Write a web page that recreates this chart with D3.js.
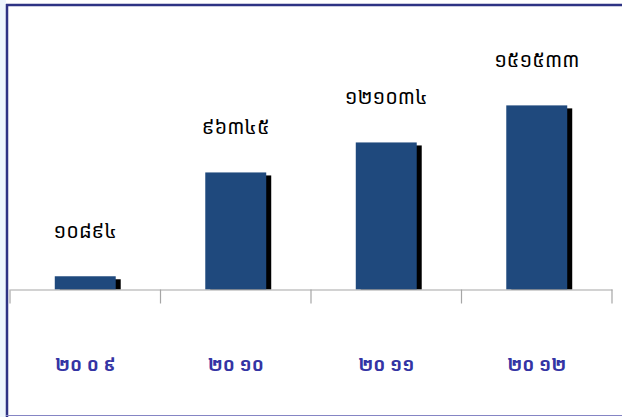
<!DOCTYPE html>
<html>
<head>
<meta charset="utf-8">
<script src="https://cdn.jsdelivr.net/npm/d3@7"></script>
<style>
  html, body { margin: 0; padding: 0; background: #ffffff; }
  svg { display: block; }
</style>
</head>
<body>
<svg id="chart" width="622" height="417"></svg>
<script>
// Yearly totals, with labels in Khmer numerals
const years = ["២០ ០ ៩", "២០ ១០", "២០ ១១", "២០ ១២"];
const values = [10894, 96345, 121034, 151533];
const valueLabels = ["១០៨៩៤", "៩៦៣៤៥", "១២១០៣៤", "១៥១៥៣៣"];

const svg = d3.select("#chart");
const W = 622, H = 417;

// outer frame
svg.append("rect").attr("x", 0).attr("y", 0).attr("width", 6).attr("height", H).attr("fill", "#eef6fd");
svg.append("line").attr("x1", 6).attr("x2", W).attr("y1", 5).attr("y2", 5)
  .attr("stroke", "#2e3384").attr("stroke-width", 2.5);
svg.append("line").attr("x1", 7).attr("x2", 7).attr("y1", 4).attr("y2", H)
  .attr("stroke", "#2e3384").attr("stroke-width", 2.5);
svg.append("line").attr("x1", 6).attr("x2", W).attr("y1", 415.5).attr("y2", 415.5)
  .attr("stroke", "#8585c4").attr("stroke-width", 1.2);

const x = d3.scaleBand().domain(years).range([10, 612]).paddingInner(0).paddingOuter(0);
const y = d3.scaleLinear().domain([0, 200000]).range([289.5, 289.5 - 243]);

const barW = x.bandwidth() * 0.405;

const g = svg.append("g");

// drop shadows
g.selectAll("rect.shadow").data(values).join("rect")
  .attr("class", "shadow")
  .attr("x", (d, i) => x(years[i]) + (x.bandwidth() - barW) / 2 + 5)
  .attr("y", d => y(d) + 3)
  .attr("width", barW)
  .attr("height", d => y(0) - y(d) - 3)
  .attr("fill", "#000000");

// bars
g.selectAll("rect.bar").data(values).join("rect")
  .attr("class", "bar")
  .attr("x", (d, i) => x(years[i]) + (x.bandwidth() - barW) / 2)
  .attr("y", d => y(d))
  .attr("width", barW)
  .attr("height", d => y(0) - y(d))
  .attr("fill", "#1f497d");

// category axis
const axis = d3.axisBottom(x).tickSize(0).tickFormat("");
const ax = svg.append("g").attr("transform", `translate(0,${y(0)})`).call(axis);
ax.select(".domain").attr("stroke", "#a6a6a6").attr("stroke-width", 1.2);
ax.selectAll(".tick").remove();
const bounds = x.domain().map(d => x(d)).concat([x.range()[1]]);
ax.selectAll("line.sep").data(bounds).join("line")
  .attr("class", "sep")
  .attr("x1", d => d).attr("x2", d => d)
  .attr("y1", 0).attr("y2", 14)
  .attr("stroke", "#a6a6a6").attr("stroke-width", 1.2);

// value labels
g.selectAll("text.val").data(values).join("text")
  .attr("class", "val")
  .attr("x", (d, i) => x(years[i]) + x.bandwidth() / 2)
  .attr("y", d => y(d) - 38)
  .attr("text-anchor", "middle")
  .attr("font-family", "'Khmer OS', 'Noto Sans Khmer', 'Khmer OS System', sans-serif")
  .attr("font-size", 20)
  .attr("fill", "#000000")
  .text((d, i) => valueLabels[i]);

// year labels
g.selectAll("text.year").data(years).join("text")
  .attr("class", "year")
  .attr("x", d => x(d) + x.bandwidth() / 2)
  .attr("y", 371)
  .attr("text-anchor", "middle")
  .attr("font-family", "'Khmer OS Muol', 'Khmer OS', 'Noto Sans Khmer', sans-serif")
  .attr("font-weight", "bold")
  .attr("font-size", 18)
  .attr("fill", "#3434a4")
  .text(d => d);
</script>
</body>
</html>
